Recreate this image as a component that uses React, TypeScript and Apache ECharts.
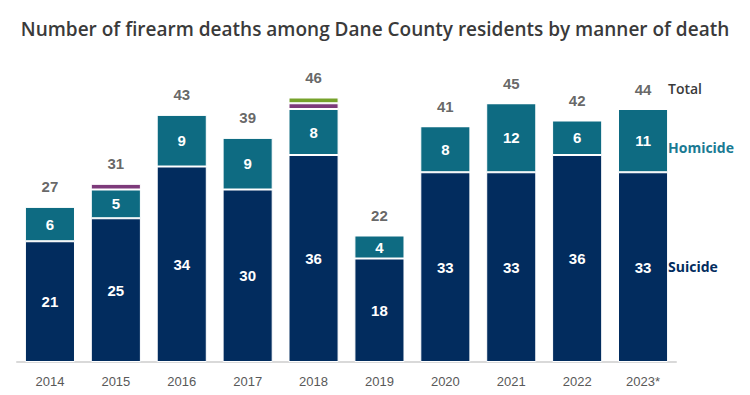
import React, { useEffect, useRef } from "react";
import * as echarts from "echarts";

const years = ["2014", "2015", "2016", "2017", "2018", "2019", "2020", "2021", "2022", "2023*"];
const suicide = [21, 25, 34, 30, 36, 18, 33, 33, 36, 33];
const homicide = [6, 5, 9, 9, 8, 4, 8, 12, 6, 11];
const otherPurple = [0, 1, 0, 0, 1, 0, 0, 0, 0, 0];
const otherGreen = [0, 0, 0, 0, 1, 0, 0, 0, 0, 0];
const totals = [27, 31, 43, 39, 46, 22, 41, 45, 42, 44];

const FONT = "'Open Sans', 'Noto Sans', sans-serif";
const ARIAL = "'Liberation Sans', Arial, sans-serif";

export default function App() {
  const ref = useRef<HTMLDivElement>(null);
  useEffect(() => {
    document.body.style.margin = "0";
    if (!ref.current) return;
    const chart = echarts.init(ref.current, undefined, { renderer: "svg" });
    const inner = {
      show: true,
      color: "#ffffff",
      fontWeight: "bold" as const,
      fontSize: 15,
      fontFamily: ARIAL,
    };
    chart.setOption({
      animation: false,
      backgroundColor: "#ffffff",
      title: {
        text: "Number of firearm deaths among Dane County residents by manner of death",
        left: "center",
        top: 14,
        textStyle: { fontFamily: FONT, fontSize: 19, fontWeight: 600, color: "#3a3a3a" },
      },
      grid: { left: 17, right: 74, top: 74.5, bottom: 33 },
      xAxis: {
        type: "category",
        data: years,
        axisLine: { lineStyle: { color: "#d9d9d9", width: 2 } },
        axisTick: { show: false },
        axisLabel: {
          color: "#595959",
          fontSize: 13,
          margin: 13,
          fontFamily: "'Liberation Sans Narrow', 'Arial Narrow', 'Liberation Sans', sans-serif",
        },
      },
      yAxis: { type: "value", min: 0, max: 50, show: false, splitLine: { show: false } },
      series: [
        {
          name: "Suicide",
          type: "bar",
          stack: "a",
          data: suicide,
          barWidth: "76%",
          itemStyle: { color: "#022c5e", borderColor: "#ffffff", borderWidth: 1 },
          label: { ...inner, position: "inside" },
        },
        {
          name: "Homicide",
          type: "bar",
          stack: "a",
          data: homicide,
          itemStyle: { color: "#0e6b82", borderColor: "#ffffff", borderWidth: 1 },
          label: { ...inner, position: "inside" },
        },
        {
          name: "Other1",
          type: "bar",
          stack: "a",
          data: otherPurple,
          itemStyle: { color: "#7d3a7a", borderColor: "#ffffff", borderWidth: 1 },
        },
        {
          name: "Other2",
          type: "bar",
          stack: "a",
          data: otherGreen,
          itemStyle: { color: "#76a22b", borderColor: "#ffffff", borderWidth: 1 },
        },
        {
          name: "Total",
          type: "scatter",
          data: totals,
          symbolSize: 1,
          itemStyle: { color: "rgba(0,0,0,0)" },
          label: {
            show: true,
            position: "top",
            distance: 12,
            color: "#404040",
            fontSize: 15,
            fontWeight: "bold",
            fontFamily: ARIAL,
          },
        },
      ],
      graphic: [
        {
          type: "text",
          left: 668,
          top: 81,
          style: { text: "Total", fill: "#3a3a3a", font: `600 14px ${FONT}` },
        },
        {
          type: "text",
          left: 668,
          top: 140,
          style: { text: "Homicide", fill: "#1a7a93", font: `bold 14px ${FONT}` },
        },
        {
          type: "text",
          left: 668,
          top: 259,
          style: { text: "Suicide", fill: "#022c5e", font: `bold 14px ${FONT}` },
        },
      ],
    });
    return () => chart.dispose();
  }, []);
  return <div ref={ref} style={{ width: 750, height: 395 }} />;
}
